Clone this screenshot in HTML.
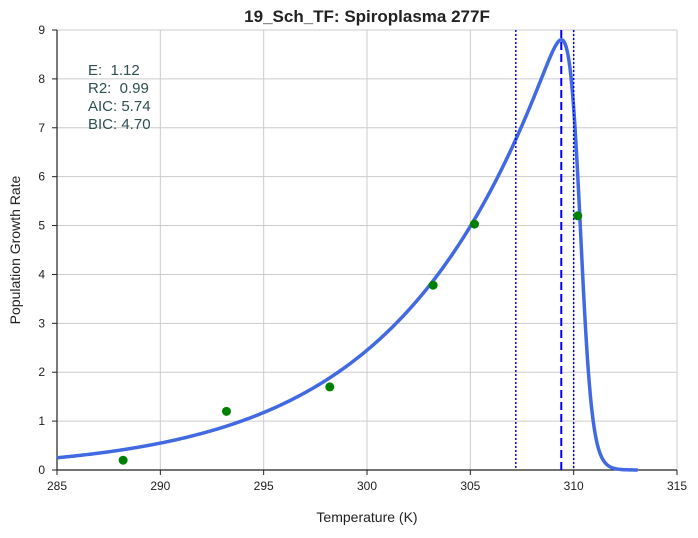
<!DOCTYPE html>
<html><head><meta charset="utf-8"><style>
body{margin:0;background:#fff;font-family:"Liberation Sans",sans-serif}
svg text{font-family:"Liberation Sans",sans-serif}
</style></head><body>
<svg id="chart" width="698" height="533" viewBox="0 0 698 533" xmlns="http://www.w3.org/2000/svg">
<g id="grid"></g>
<g id="axes"></g>
<g id="marks"></g>
<text x="367" y="22" text-anchor="middle" font-size="17" font-weight="bold" fill="#222">19_Sch_TF: Spiroplasma 277F</text>
<text x="367" y="522" text-anchor="middle" font-size="14" fill="#222">Temperature (K)</text>
<text transform="translate(20,250) rotate(-90)" text-anchor="middle" font-size="14" fill="#222">Population Growth Rate</text>
<g font-size="15" fill="#2f4f4f" style="white-space:pre">
<text x="88" y="75" xml:space="preserve">E:  1.12</text>
<text x="88" y="93" xml:space="preserve">R2:  0.99</text>
<text x="88" y="111">AIC: 5.74</text>
<text x="88" y="129">BIC: 4.70</text>
</g>
</svg>
<script>
const xTicks=[285,290,295,300,305,310,315];
const yTicks=[0,1,2,3,4,5,6,7,8,9];
const obsT=[288.2,293.2,298.2,303.2,305.2,310.2];
const obsRate=[0.2,1.2,1.7,3.78,5.03,5.2];
const modelParams=[2.45,1.12,30,310.3,300]; // B0, E, Eh, Th, Tref
const curveRange=[285,313.1];
const peakLine=[309.4];
const boundLines=[307.2,310.0];
const X0=57,X1=677,Y0=470,Y1=30;
const sx=v=>X0+(v-285)/(315-285)*(X1-X0);
const sy=v=>Y0-(v-0)/(9-0)*(Y0-Y1);
const NS="http://www.w3.org/2000/svg";
function mk(tag,attrs,parent){const e=document.createElementNS(NS,tag);for(const k in attrs)e.setAttribute(k,attrs[k]);parent.appendChild(e);return e;}
const grid=document.getElementById('grid'),axes=document.getElementById('axes'),marks=document.getElementById('marks');
xTicks.forEach(t=>{
 const g=mk('line',{x1:sx(t),x2:sx(t),y1:Y1,y2:Y0,stroke:'#cccccc','stroke-width':1},grid);
 
 
 const tk=mk('line',{x1:sx(t),x2:sx(t),y1:Y0,y2:Y0+5,stroke:'#222'},axes);
 
 
 const l=mk('text',{x:sx(t),y:Y0+20,'text-anchor':'middle','font-size':12,fill:'#222'},axes);
 l.textContent=t;
 
 
});
yTicks.forEach(t=>{
 const g=mk('line',{x1:X0,x2:X1,y1:sy(t),y2:sy(t),stroke:'#cccccc','stroke-width':1},grid);
 
 
 const tk=mk('line',{x1:X0-5,x2:X0,y1:sy(t),y2:sy(t),stroke:'#222'},axes);
 
 
 const l=mk('text',{x:X0-12,y:sy(t)+4,'text-anchor':'end','font-size':12,fill:'#222'},axes);
 l.textContent=t;
 
 
});
const xa=mk('line',{x1:X0,x2:X1,y1:Y0,y2:Y0,stroke:'#222','stroke-width':1.2},axes);


const ya=mk('line',{x1:X0,x2:X0,y1:Y1,y2:Y0,stroke:'#222','stroke-width':1.2},axes);


const k=8.617e-5;
function model(T){const[B0,E,Eh,Th,Tr]=modelParams;return B0*Math.exp(-E/k*(1/T-1/Tr))/(1+Math.exp(Eh/k*(1/Th-1/T)));}
let d='';
for(let i=0;i<=600;i++){const T=curveRange[0]+(curveRange[1]-curveRange[0])*i/600;d+=(i?'L':'M')+sx(T).toFixed(2)+','+sy(model(T)).toFixed(2);}
const c=mk('path',{d:d,fill:'none',stroke:'#4169e1','stroke-width':3.5},marks);


peakLine.forEach(t=>{
 const l=mk('line',{x1:sx(t),x2:sx(t),y1:Y1,y2:Y0,stroke:'#0000ff','stroke-width':2,'stroke-dasharray':'8,4'},marks);
 
 
});
boundLines.forEach(t=>{
 const l=mk('line',{x1:sx(t),x2:sx(t),y1:Y1,y2:Y0,stroke:'#0000ff','stroke-width':1.5,'stroke-dasharray':'2,2'},marks);
 
 
});
obsT.forEach((t,i)=>{
 const p=mk('circle',{cx:sx(t),cy:sy(obsRate[i]),r:4.5,fill:'#008000'},marks);
 
 
});
</script>
</body></html>
